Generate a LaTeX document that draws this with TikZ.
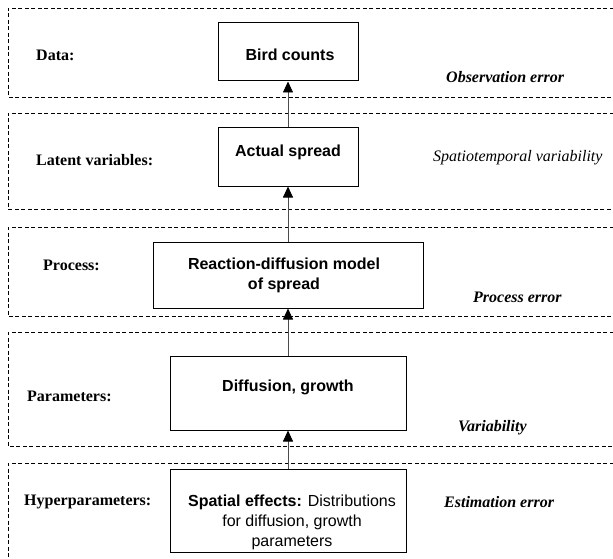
\documentclass[tikz,border=0pt]{standalone}
\usepackage{fontspec}
\setmainfont{Liberation Serif}
\newfontfamily\arialfont{Liberation Sans}
\usetikzlibrary{arrows.meta}
\begin{document}
\begin{tikzpicture}[x=1pt,y=-1pt,
  band/.style={draw=black, line width=0.7pt, dash pattern=on 4pt off 2.5pt},
  box/.style={draw=black, line width=1pt, inner sep=0pt},
  boxtext/.style={font=\arialfont\fontsize{16}{20}\selectfont, align=center, inner sep=0pt},
  lefttext/.style={font=\fontsize{16}{20}\selectfont\bfseries, anchor=west, inner sep=0pt},
  righttext/.style={font=\fontsize{16}{20}\selectfont\bfseries\itshape, anchor=west, inner sep=0pt},
  rightplain/.style={font=\fontsize{16}{20}\selectfont\itshape, anchor=west, inner sep=0pt},
  arr/.style={draw=black!70, line width=0.8pt, -{Triangle[length=11pt,width=10pt,color=black]}}
]
\useasboundingbox (0,0) rectangle (613,559);

% bands
\draw[band] (620,8) -- (8,8) -- (8,97) -- (620,97);
\draw[band] (620,113) -- (8,113) -- (8,209) -- (620,209);
\draw[band] (620,227) -- (8,227) -- (8,316) -- (620,316);
\draw[band] (620,332) -- (8,332) -- (8,446) -- (620,446);
\draw[band] (620,463) -- (8,463) -- (8,570);

% boxes
\node[box, minimum width=140pt, minimum height=58pt] (bird) at (288,52) {};
\node[box, minimum width=140pt, minimum height=58pt] (actual) at (288,157) {};
\node[box, minimum width=270pt, minimum height=66pt] (react) at (288,275) {};
\node[box, minimum width=236pt, minimum height=74pt] (diff) at (288,393) {};
\node[box, minimum width=236pt, minimum height=83pt] (spatial) at (288,510.5) {};

% box texts
\node[boxtext] (birdt) at (290,55) {\bfseries Bird counts};
\node[boxtext] (actualt) at (288,152) {\bfseries Actual spread};
\node[boxtext, font=\arialfont\bfseries\fontsize{16}{20}\selectfont] (reactt) at (284,275) {Reaction-diffusion model\\of spread};
\node[boxtext] (difft) at (288,387) {\bfseries Diffusion, growth};
\node[boxtext] (spatialt) at (292,522) {\textbf{Spatial effects:} Distributions\\for diffusion, growth\\parameters};

% left labels
\node[lefttext] (ldata) at (36,55) {Data:};
\node[lefttext] (llatent) at (36,160) {Latent variables:};
\node[lefttext] (lprocess) at (43,265) {Process:};
\node[lefttext] (lparam) at (27,396) {Parameters:};
\node[lefttext] (lhyper) at (24,502) {Hyperparameters:};

% right labels
\node[righttext] (robs) at (446,77) {Observation error};
\node[rightplain] (rspat) at (433,158) {Spatiotemporal variability};
\node[righttext] (rproc) at (473,297) {Process error};
\node[righttext] (rvar) at (458,428) {Variability};
\node[righttext] (rest) at (444,502) {Estimation error};

% arrows
\draw[arr] (spatial.north) -- (diff.south);
\draw[arr] (diff.north) -- (react.south);
\draw[arr] (react.north) -- (actual.south);
\draw[arr] (actual.north) -- (bird.south);
\end{tikzpicture}
\end{document}
